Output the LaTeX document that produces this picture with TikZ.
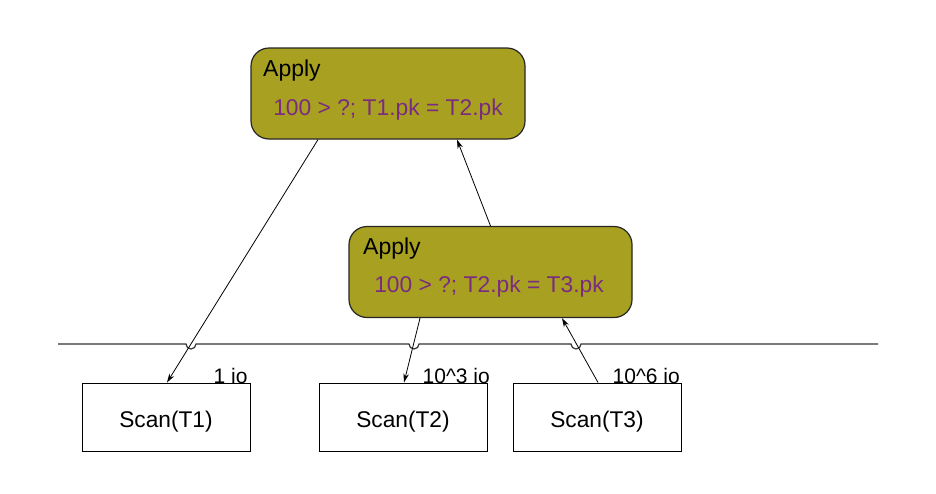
\documentclass[tikz,border=0pt]{standalone}
\usepackage{fontspec}
\setmainfont{Liberation Sans}
\usetikzlibrary{arrows.meta}
\definecolor{boxolive}{RGB}{168,160,32}
\definecolor{condpurple}{RGB}{122,44,128}
\tikzset{
  applybox/.style={draw=black!85, line width=1.2pt, fill=boxolive, rounded corners=18pt, minimum width=#1, minimum height=91pt, inner sep=0pt},
  scanbox/.style={draw=black, line width=1pt, fill=white, minimum width=168pt, minimum height=68pt, inner sep=0pt, text height=21pt, text depth=0pt, font=\fontsize{22.7}{26}\selectfont},
  applytitle/.style={anchor=base west, inner sep=0pt, font=\fontsize{23}{26}\selectfont},
  condtext/.style={anchor=base, inner sep=0pt, text=condpurple, font=\fontsize{22.8}{26}\selectfont},
  iolabel/.style={anchor=base west, inner sep=0pt, font=\fontsize{21}{24}\selectfont},
  flow/.style={line width=0.8pt, -{Stealth[length=9pt,width=5.5pt]}},
  boundary/.style={line width=1.2pt, black!80}
}
\begin{document}
\begin{tikzpicture}[x=1pt,y=-1pt]
\useasboundingbox (0,0) rectangle (936,493);
% apply nodes
\node[applybox=274pt] (a1) at (388,93.5) {};
\node[applytitle] (a1t) at (263,76.7) {Apply};
\node[condtext] (a1c) at (388,115) {100 > ?; T1.pk = T2.pk};
\node[applybox=283pt] (a2) at (490.5,272) {};
\node[applytitle] (a2t) at (363,254.5) {Apply};
\node[condtext] (a2c) at (489,292.7) {100 > ?; T2.pk = T3.pk};
% scan nodes
\node[scanbox] (s1) at (166,417) {Scan(T1)};
\node[scanbox] (s2) at (403,417) {Scan(T2)};
\node[scanbox] (s3) at (597,417) {Scan(T3)};
% io labels
\node[iolabel] (l1) at (213.5,383) {1 io};
\node[iolabel] (l2) at (422.5,383) {10\^{}3 io};
\node[iolabel] (l3) at (612.5,383) {10\^{}6 io};
% boundary line with hops
\coordinate (h0) at (58,344);
\coordinate (h4) at (878,344);
\draw[boundary] (h0) -- (186,344) arc[start angle=180,end angle=0,radius=5]
  -- (409,344) arc[start angle=180,end angle=0,radius=5]
  -- (571,344) arc[start angle=180,end angle=0,radius=5]
  -- (h4);
% connectors
\draw[flow] ([xshift=-70pt]a1.south) -- ([xshift=1pt]s1.north);
\draw[flow] ([xshift=-70.5pt]a2.south) -- ([xshift=1pt]s2.north);
\draw[flow] ([xshift=1pt]s3.north) -- ([xshift=71.5pt]a2.south);
\draw[flow] (a2.north) -- ([xshift=69pt]a1.south);
\end{tikzpicture}
\end{document}
